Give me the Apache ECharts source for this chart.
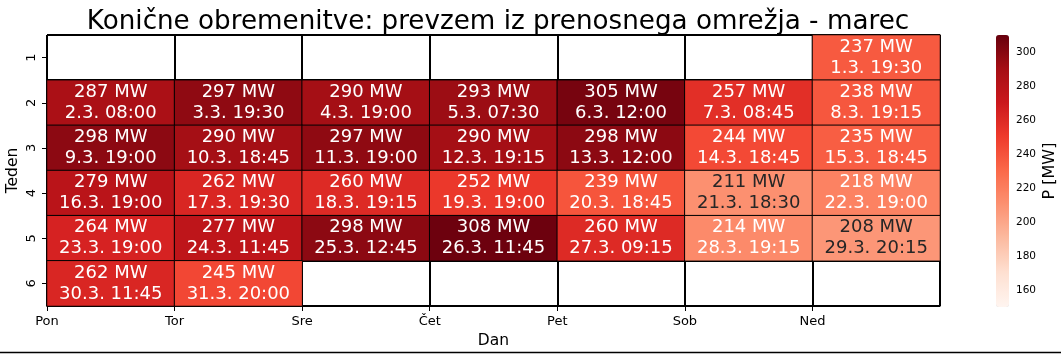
<!DOCTYPE html>
<html>
<head>
<meta charset="utf-8">
<script src="https://cdn.jsdelivr.net/npm/echarts@6/dist/echarts.min.js"></script>
<style>
  html, body { margin: 0; padding: 0; background: #fff; }
  #chart { width: 1061px; height: 354px; }
</style>
</head>
<body>
<div id="chart"></div>
<script>
const days = ['Pon', 'Tor', 'Sre', 'Čet', 'Pet', 'Sob', 'Ned'];
const weeks = ['1', '2', '3', '4', '5', '6'];
// konične obremenitve po tednih (vrstice) in dnevih (stolpci), null = ni dneva
const peakMW = [
  [null, null, null, null, null, null, 237],
  [287, 297, 290, 293, 305, 257, 238],
  [298, 290, 297, 290, 298, 244, 235],
  [279, 262, 260, 252, 239, 211, 218],
  [264, 277, 298, 308, 260, 214, 208],
  [262, 245, null, null, null, null, null]
];
const peakTime = [
  [null, null, null, null, null, null, '1.3. 19:30'],
  ['2.3. 08:00', '3.3. 19:30', '4.3. 19:00', '5.3. 07:30', '6.3. 12:00', '7.3. 08:45', '8.3. 19:15'],
  ['9.3. 19:00', '10.3. 18:45', '11.3. 19:00', '12.3. 19:15', '13.3. 12:00', '14.3. 18:45', '15.3. 18:45'],
  ['16.3. 19:00', '17.3. 19:30', '18.3. 19:15', '19.3. 19:00', '20.3. 18:45', '21.3. 18:30', '22.3. 19:00'],
  ['23.3. 19:00', '24.3. 11:45', '25.3. 12:45', '26.3. 11:45', '27.3. 09:15', '28.3. 19:15', '29.3. 20:15'],
  ['30.3. 11:45', '31.3. 20:00', null, null, null, null, null]
];
const colorbarTicks = [160, 180, 200, 220, 240, 260, 280, 300];
const redsMap = ['#fff5f0', '#fee0d2', '#fcbba1', '#fc9272', '#fb6a4a', '#ef3b2c', '#cb181d', '#a50f15', '#67000d'];

const FONT = 'DejaVu Sans';

// heatmap podatki [dan, teden, vrednost]; tamno besedilo na svetlih celicah
let heatData = [];
peakMW.forEach((row, w) => {
  row.forEach((v, d) => {
    if (v !== null) {
      heatData.push({
        value: [d, w, v],
        label: {color: v <= 211 ? '#262626' : '#ffffff'}
      });
    }
  });
});

const chart = echarts.init(document.getElementById('chart'));

let option = {
  backgroundColor: '#fff',
  animation: false,
  title: {
    text: 'Konične obremenitve: prevzem iz prenosnega omrežja - marec',
    left: 493,
    top: 4,
    textAlign: 'center',
    textStyle: {fontFamily: FONT, fontSize: 26.2, fontWeight: 'normal', color: '#000'}
  },
  grid: [
    {left: 47, top: 35, width: 893, height: 271, outerBoundsMode: 'none', containLabel: false,
      show: true, borderColor: '#000', borderWidth: 1, backgroundColor: '#fff'},
    {left: 996, top: 35, width: 13, height: 272, outerBoundsMode: 'none', containLabel: false}
  ],
  visualMap: {
    type: 'continuous',
    min: 150,
    max: 310,
    seriesIndex: 0,
    calculable: false,
    orient: 'vertical',
    left: 996,
    top: 35,
    padding: 0,
    itemWidth: 13,
    itemHeight: 272,
    text: null,
    showLabel: false,
    inRange: {color: redsMap}
  },
  xAxis: [
    {
      type: 'category',
      gridIndex: 0,
      data: days,
      axisLabel: {show: false},
      axisTick: {show: false},
      axisLine: {show: false},
      splitLine: {show: true, lineStyle: {color: '#000', width: 2}}
    },
    {
      type: 'value',
      gridIndex: 0,
      min: 0,
      max: 7,
      position: 'bottom',
      name: 'Dan',
      nameLocation: 'middle',
      nameGap: 27,
      nameTextStyle: {fontFamily: FONT, fontSize: 15.5, color: '#000'},
      axisLine: {show: true, lineStyle: {color: '#000', width: 1}},
      axisTick: {show: true, length: 5, customValues: [0, 1, 2, 3, 4, 5, 6], lineStyle: {color: '#000'}},
      axisLabel: {
        customValues: [0, 1, 2, 3, 4, 5, 6],
        formatter: v => days[v],
        fontFamily: FONT, fontSize: 13, color: '#000', margin: 9
      },
      splitLine: {show: false}
    },
    {
      type: 'value',
      gridIndex: 1,
      show: false
    }
  ],
  yAxis: [
    {
      type: 'category',
      gridIndex: 0,
      data: weeks,
      inverse: true,
      name: 'Teden',
      nameLocation: 'middle',
      nameGap: 26,
      nameMoveOverlap: false,
      nameTextStyle: {fontFamily: FONT, fontSize: 15.5, color: '#000'},
      axisLine: {show: false},
      axisTick: {show: true, alignWithLabel: true, length: 5, lineStyle: {color: '#000'}},
      axisLabel: {rotate: 90, fontFamily: FONT, fontSize: 13, color: '#000', margin: 9},
      splitLine: {show: true, lineStyle: {color: '#000', width: 2}}
    },
    {
      type: 'value',
      gridIndex: 1,
      min: 150,
      max: 310,
      position: 'right',
      name: 'P [MW]',
      nameLocation: 'middle',
      nameRotate: 90,
      nameGap: 33,
      nameTextStyle: {fontFamily: FONT, fontSize: 16, color: '#000'},
      axisLine: {show: false},
      axisTick: {show: true, length: 4, customValues: colorbarTicks, lineStyle: {color: '#000'}},
      axisLabel: {customValues: colorbarTicks, fontFamily: FONT, fontSize: 10.5, color: '#000', margin: 7},
      splitLine: {show: false}
    }
  ],
  series: [
    {
      type: 'heatmap',
      xAxisIndex: 0,
      yAxisIndex: 0,
      data: heatData,
      itemStyle: {borderColor: '#000', borderWidth: 1},
      label: {
        show: true,
        fontFamily: FONT,
        fontSize: 18,
        lineHeight: 21,
        formatter: p => p.value[2] + ' MW\n' + peakTime[p.value[1]][p.value[0]]
      },
      emphasis: {disabled: true}
    }
  ],
  graphic: [
    {type: 'line', shape: {x1: 0, y1: 352.5, x2: 1061, y2: 352.5}, style: {stroke: '#000', lineWidth: 1.5}, silent: true}
  ]
};

chart.setOption(option);
</script>
</body>
</html>
